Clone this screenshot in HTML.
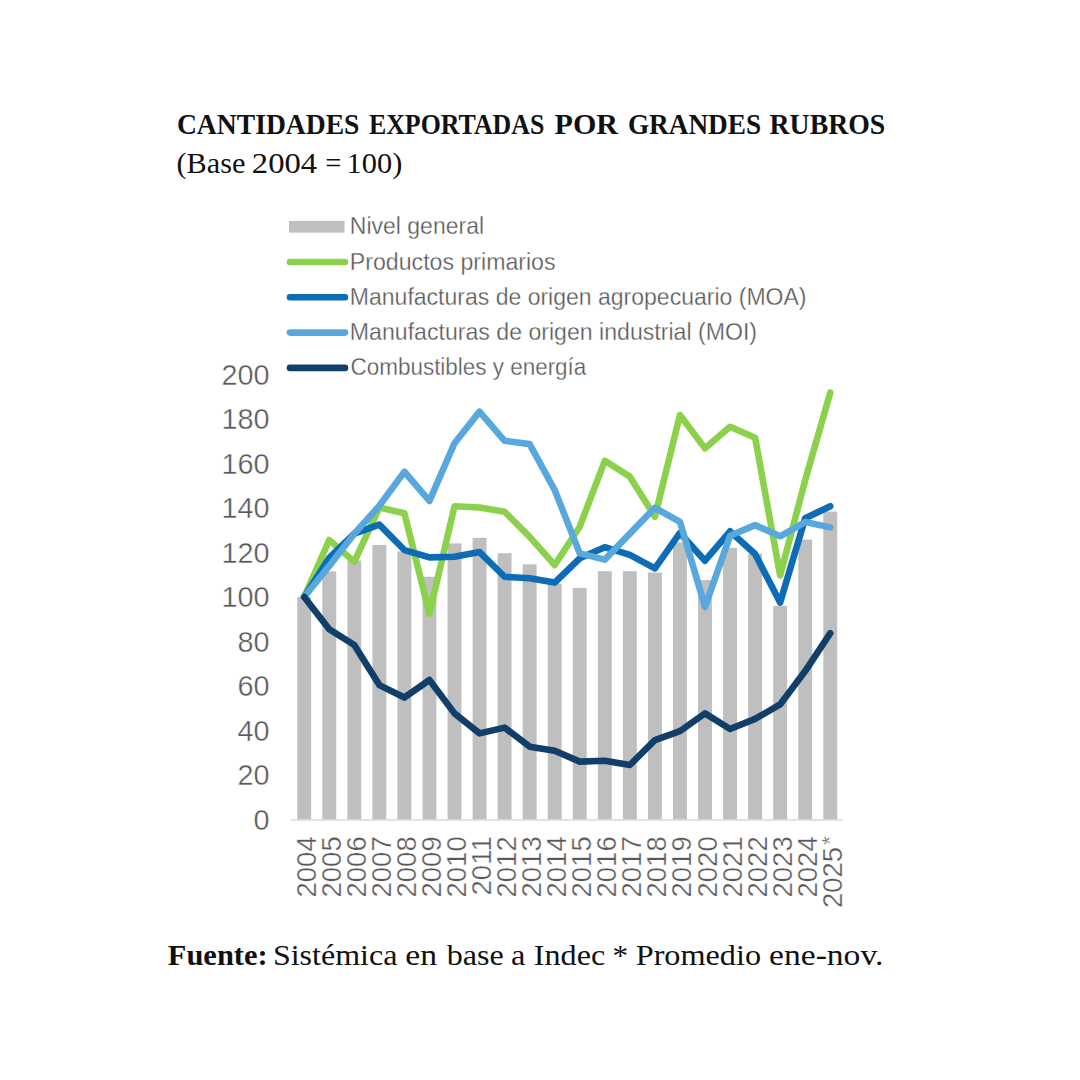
<!DOCTYPE html>
<html><head><meta charset="utf-8"><style>
html,body{margin:0;padding:0;background:#fff;width:1080px;height:1080px;overflow:hidden}
svg{position:absolute;left:0;top:0}
.ax{font-family:"Liberation Sans",sans-serif;font-size:28.8px;fill:#595959;stroke:#fff;stroke-width:0.35px}
.lg{font-family:"Liberation Sans",sans-serif;fill:#595959;stroke:#fff;stroke-width:0.3px}
.tt{font-family:"Liberation Serif",serif;font-weight:bold;fill:#111}
.st{font-family:"Liberation Serif",serif;fill:#111}
</style></head><body>
<svg width="1080" height="1080" viewBox="0 0 1080 1080">
<text x="176.92" y="133.9" class="tt" style="font-size:30.2px" textLength="182.55" lengthAdjust="spacingAndGlyphs">CANTIDADES</text>
<text x="368.91" y="133.9" class="tt" style="font-size:30.2px" textLength="175.44" lengthAdjust="spacingAndGlyphs">EXPORTADAS</text>
<text x="554.55" y="133.9" class="tt" style="font-size:30.2px" textLength="63.48" lengthAdjust="spacingAndGlyphs">POR</text>
<text x="627.94" y="133.9" class="tt" style="font-size:30.2px" textLength="133.14" lengthAdjust="spacingAndGlyphs">GRANDES</text>
<text x="769.58" y="133.9" class="tt" style="font-size:30.2px" textLength="115.60" lengthAdjust="spacingAndGlyphs">RUBROS</text>
<text x="176.44" y="172.8" class="st" style="font-size:28.9px" textLength="68.93" lengthAdjust="spacingAndGlyphs">(Base</text>
<text x="251.83" y="172.8" class="st" style="font-size:28.9px" textLength="65.36" lengthAdjust="spacingAndGlyphs">2004</text>
<text x="325.27" y="172.8" class="st" style="font-size:28.9px" textLength="16.13" lengthAdjust="spacingAndGlyphs">=</text>
<text x="346.56" y="172.8" class="st" style="font-size:28.9px" textLength="55.75" lengthAdjust="spacingAndGlyphs">100)</text>
<text x="167.84" y="965" class="tt" style="font-size:29.6px" textLength="99.81" lengthAdjust="spacingAndGlyphs">Fuente:</text>
<text x="272.92" y="965" class="st" style="font-size:29.6px" textLength="124.50" lengthAdjust="spacingAndGlyphs">Sistémica</text>
<text x="405.35" y="965" class="st" style="font-size:29.6px" textLength="31.81" lengthAdjust="spacingAndGlyphs">en</text>
<text x="446.70" y="965" class="st" style="font-size:29.6px" textLength="57.12" lengthAdjust="spacingAndGlyphs">base</text>
<text x="511.07" y="965" class="st" style="font-size:29.6px" textLength="14.38" lengthAdjust="spacingAndGlyphs">a</text>
<text x="533.88" y="965" class="st" style="font-size:29.6px" textLength="71.31" lengthAdjust="spacingAndGlyphs">Indec</text>
<text x="612.64" y="965" class="st" style="font-size:29.6px" textLength="15.62" lengthAdjust="spacingAndGlyphs">*</text>
<text x="635.73" y="965" class="st" style="font-size:29.6px" textLength="125.31" lengthAdjust="spacingAndGlyphs">Promedio</text>
<text x="769.06" y="965" class="st" style="font-size:29.6px" textLength="114.35" lengthAdjust="spacingAndGlyphs">ene-nov.</text>
<rect x="297.25" y="597.00" width="13.9" height="222.50" fill="#BFBFBF"/>
<rect x="322.30" y="571.41" width="13.9" height="248.09" fill="#BFBFBF"/>
<rect x="347.35" y="560.51" width="13.9" height="258.99" fill="#BFBFBF"/>
<rect x="372.40" y="544.93" width="13.9" height="274.57" fill="#BFBFBF"/>
<rect x="397.45" y="551.39" width="13.9" height="268.11" fill="#BFBFBF"/>
<rect x="422.50" y="576.75" width="13.9" height="242.75" fill="#BFBFBF"/>
<rect x="447.55" y="543.38" width="13.9" height="276.12" fill="#BFBFBF"/>
<rect x="472.60" y="537.82" width="13.9" height="281.68" fill="#BFBFBF"/>
<rect x="497.65" y="553.17" width="13.9" height="266.33" fill="#BFBFBF"/>
<rect x="522.70" y="564.29" width="13.9" height="255.21" fill="#BFBFBF"/>
<rect x="547.75" y="583.65" width="13.9" height="235.85" fill="#BFBFBF"/>
<rect x="572.80" y="587.88" width="13.9" height="231.62" fill="#BFBFBF"/>
<rect x="597.85" y="571.19" width="13.9" height="248.31" fill="#BFBFBF"/>
<rect x="622.90" y="571.19" width="13.9" height="248.31" fill="#BFBFBF"/>
<rect x="647.95" y="572.52" width="13.9" height="246.98" fill="#BFBFBF"/>
<rect x="673.00" y="542.49" width="13.9" height="277.01" fill="#BFBFBF"/>
<rect x="698.05" y="580.09" width="13.9" height="239.41" fill="#BFBFBF"/>
<rect x="723.10" y="547.83" width="13.9" height="271.67" fill="#BFBFBF"/>
<rect x="748.15" y="553.61" width="13.9" height="265.89" fill="#BFBFBF"/>
<rect x="773.20" y="605.90" width="13.9" height="213.60" fill="#BFBFBF"/>
<rect x="798.25" y="539.60" width="13.9" height="279.90" fill="#BFBFBF"/>
<rect x="823.30" y="511.56" width="13.9" height="307.94" fill="#BFBFBF"/>
<line x1="291" y1="820.0" x2="843" y2="820.0" stroke="#D9D9D9" stroke-width="1.5"/>
<polyline points="304.20,597.00 329.25,540.04 354.30,561.85 379.35,507.56 404.40,513.34 429.45,613.69 454.50,506.22 479.55,507.56 504.60,511.78 529.65,536.92 554.70,564.96 579.75,526.69 604.80,460.83 629.85,476.63 654.90,516.68 679.95,414.99 705.00,448.37 730.05,426.79 755.10,437.69 780.15,575.42 805.20,480.19 830.25,392.74" fill="none" stroke="#8CD14B" stroke-width="6.6" stroke-linejoin="round" stroke-linecap="round"/>
<polyline points="304.20,597.00 329.25,557.84 354.30,533.59 379.35,524.69 404.40,550.05 429.45,557.39 454.50,556.73 479.55,552.06 504.60,576.75 529.65,578.31 554.70,582.54 579.75,558.28 604.80,547.16 629.85,554.95 654.90,568.30 679.95,532.92 705.00,560.73 730.05,531.36 755.10,554.06 780.15,602.56 805.20,518.23 830.25,506.22" fill="none" stroke="#0C6CB6" stroke-width="6.6" stroke-linejoin="round" stroke-linecap="round"/>
<polyline points="304.20,597.00 329.25,565.85 354.30,533.81 379.35,505.77 404.40,471.73 429.45,500.88 454.50,443.25 479.55,411.66 504.60,440.81 529.65,444.14 554.70,489.98 579.75,553.39 604.80,559.62 629.85,533.59 654.90,507.78 679.95,521.79 705.00,606.79 730.05,535.81 755.10,525.13 780.15,536.26 805.20,522.02 830.25,527.36" fill="none" stroke="#58A8DE" stroke-width="6.6" stroke-linejoin="round" stroke-linecap="round"/>
<polyline points="304.20,597.00 329.25,629.26 354.30,645.06 379.35,685.11 404.40,697.57 429.45,679.99 454.50,713.37 479.55,733.39 504.60,727.61 529.65,746.74 554.70,750.75 579.75,761.65 604.80,760.76 629.85,764.99 654.90,740.07 679.95,731.17 705.00,713.37 730.05,728.94 755.10,718.93 780.15,704.47 805.20,671.09 830.25,633.27" fill="none" stroke="#123F69" stroke-width="6.6" stroke-linejoin="round" stroke-linecap="round"/>
<text x="269.5" y="829.70" text-anchor="end" class="ax">0</text>
<text x="269.5" y="785.20" text-anchor="end" class="ax">20</text>
<text x="269.5" y="740.70" text-anchor="end" class="ax">40</text>
<text x="269.5" y="696.20" text-anchor="end" class="ax">60</text>
<text x="269.5" y="651.70" text-anchor="end" class="ax">80</text>
<text x="269.5" y="607.20" text-anchor="end" class="ax">100</text>
<text x="269.5" y="562.70" text-anchor="end" class="ax">120</text>
<text x="269.5" y="518.20" text-anchor="end" class="ax">140</text>
<text x="269.5" y="473.70" text-anchor="end" class="ax">160</text>
<text x="269.5" y="429.20" text-anchor="end" class="ax">180</text>
<text x="269.5" y="384.70" text-anchor="end" class="ax">200</text>
<text transform="translate(315.70,836.3) rotate(-90)" text-anchor="end" class="ax" style="font-size:27.5px">2004</text>
<text transform="translate(340.75,836.3) rotate(-90)" text-anchor="end" class="ax" style="font-size:27.5px">2005</text>
<text transform="translate(365.80,836.3) rotate(-90)" text-anchor="end" class="ax" style="font-size:27.5px">2006</text>
<text transform="translate(390.85,836.3) rotate(-90)" text-anchor="end" class="ax" style="font-size:27.5px">2007</text>
<text transform="translate(415.90,836.3) rotate(-90)" text-anchor="end" class="ax" style="font-size:27.5px">2008</text>
<text transform="translate(440.95,836.3) rotate(-90)" text-anchor="end" class="ax" style="font-size:27.5px">2009</text>
<text transform="translate(466.00,836.3) rotate(-90)" text-anchor="end" class="ax" style="font-size:27.5px">2010</text>
<text transform="translate(491.05,836.3) rotate(-90)" text-anchor="end" class="ax" style="font-size:27.5px">2011</text>
<text transform="translate(516.10,836.3) rotate(-90)" text-anchor="end" class="ax" style="font-size:27.5px">2012</text>
<text transform="translate(541.15,836.3) rotate(-90)" text-anchor="end" class="ax" style="font-size:27.5px">2013</text>
<text transform="translate(566.20,836.3) rotate(-90)" text-anchor="end" class="ax" style="font-size:27.5px">2014</text>
<text transform="translate(591.25,836.3) rotate(-90)" text-anchor="end" class="ax" style="font-size:27.5px">2015</text>
<text transform="translate(616.30,836.3) rotate(-90)" text-anchor="end" class="ax" style="font-size:27.5px">2016</text>
<text transform="translate(641.35,836.3) rotate(-90)" text-anchor="end" class="ax" style="font-size:27.5px">2017</text>
<text transform="translate(666.40,836.3) rotate(-90)" text-anchor="end" class="ax" style="font-size:27.5px">2018</text>
<text transform="translate(691.45,836.3) rotate(-90)" text-anchor="end" class="ax" style="font-size:27.5px">2019</text>
<text transform="translate(716.50,836.3) rotate(-90)" text-anchor="end" class="ax" style="font-size:27.5px">2020</text>
<text transform="translate(741.55,836.3) rotate(-90)" text-anchor="end" class="ax" style="font-size:27.5px">2021</text>
<text transform="translate(766.60,836.3) rotate(-90)" text-anchor="end" class="ax" style="font-size:27.5px">2022</text>
<text transform="translate(791.65,836.3) rotate(-90)" text-anchor="end" class="ax" style="font-size:27.5px">2023</text>
<text transform="translate(816.70,836.3) rotate(-90)" text-anchor="end" class="ax" style="font-size:27.5px">2024</text>
<text transform="translate(841.75,836.3) rotate(-90)" text-anchor="end" class="ax" style="font-size:27.5px">2025<tspan style="font-size:22px" dx="2" dy="-4.5">*</tspan></text>
<rect x="289" y="220.9" width="55.5" height="11.7" fill="#BFBFBF"/>
<text x="349.86" y="234.4" class="lg" style="font-size:24.6px" textLength="134.17" lengthAdjust="spacingAndGlyphs">Nivel general</text>
<line x1="290" y1="262.0" x2="345" y2="262.0" stroke="#8CD14B" stroke-width="6.6" stroke-linecap="round"/>
<text x="349.85" y="269.6" class="lg" style="font-size:24.6px" textLength="205.72" lengthAdjust="spacingAndGlyphs">Productos primarios</text>
<line x1="290" y1="297.3" x2="345" y2="297.3" stroke="#0C6CB6" stroke-width="6.6" stroke-linecap="round"/>
<text x="349.86" y="304.8" class="lg" style="font-size:24.6px" textLength="456.61" lengthAdjust="spacingAndGlyphs">Manufacturas de origen agropecuario (MOA)</text>
<line x1="290" y1="332.6" x2="345" y2="332.6" stroke="#58A8DE" stroke-width="6.6" stroke-linecap="round"/>
<text x="349.85" y="340.0" class="lg" style="font-size:24.6px" textLength="407.23" lengthAdjust="spacingAndGlyphs">Manufacturas de origen industrial (MOI)</text>
<line x1="290" y1="367.9" x2="345" y2="367.9" stroke="#123F69" stroke-width="6.6" stroke-linecap="round"/>
<text x="350.58" y="375.2" class="lg" style="font-size:24.6px" textLength="235.74" lengthAdjust="spacingAndGlyphs">Combustibles y energía</text>
</svg>
</body></html>
